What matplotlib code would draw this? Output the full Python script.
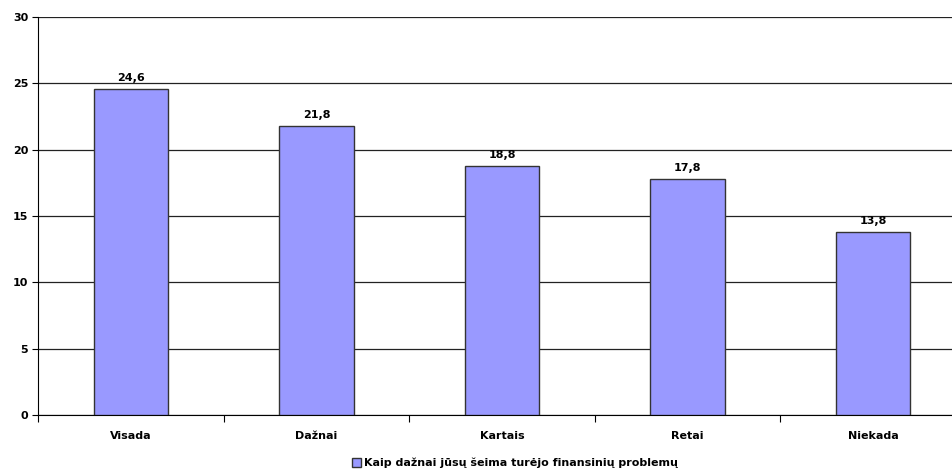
import matplotlib
matplotlib.use("Agg")
import matplotlib.pyplot as plt
from matplotlib.patches import Patch

categories = ["Visada", "Dažnai", "Kartais", "Retai", "Niekada"]
values = [24.6, 21.8, 18.8, 17.8, 13.8]
series_name = "Kaip dažnai jūsų šeima turėjo finansinių problemų"
yticks = [0, 5, 10, 15, 20, 25, 30]

fig = plt.figure(figsize=(9.53, 4.73), dpi=100)
ax = fig.add_axes([38/953, 1-415/473, (5*185.6)/953, (415-17)/473])

x = list(range(len(categories)))
bars = ax.bar(x, values, width=0.40, color="#9999FF", edgecolor="#333333", linewidth=1.0, zorder=3)

for xi, v in zip(x, values):
    ax.text(xi, v + 0.45, f"{v:.1f}".replace(".", ","), ha="center", va="bottom",
            fontsize=8, fontweight="bold", color="black")

ax.set_xlim(-0.5, len(categories) - 0.5)
ax.set_ylim(0, 30)
ax.set_yticks(yticks)
ax.set_yticklabels([str(t) for t in yticks], fontsize=8, fontweight="bold")
ax.yaxis.grid(True, color="#222222", linewidth=0.9, zorder=0)
ax.set_axisbelow(True)

ax.set_xticks([i - 0.5 for i in range(len(categories) + 1)])
ax.set_xticklabels([])
ax.tick_params(axis="x", direction="out", length=5, color="black")
ax.tick_params(axis="y", direction="out", length=4, color="black", pad=3)
for xi, c in zip(x, categories):
    ax.text(xi, -1.2, c, ha="center", va="top", fontsize=8, fontweight="bold",
            transform=ax.transData)

for s in ["top", "right"]:
    ax.spines[s].set_visible(False)
ax.spines["left"].set_color("black")
ax.spines["bottom"].set_color("black")

handle = Patch(facecolor="#9999FF", edgecolor="#333333", label=series_name)
fig.legend(handles=[handle], loc="center", bbox_to_anchor=(515/953, 1-463/473),
           frameon=False, fontsize=8, prop={"weight": "bold", "size": 8},
           handlelength=0.8, handleheight=0.8, handletextpad=0.3)

fig.savefig("out.png", dpi=100)
